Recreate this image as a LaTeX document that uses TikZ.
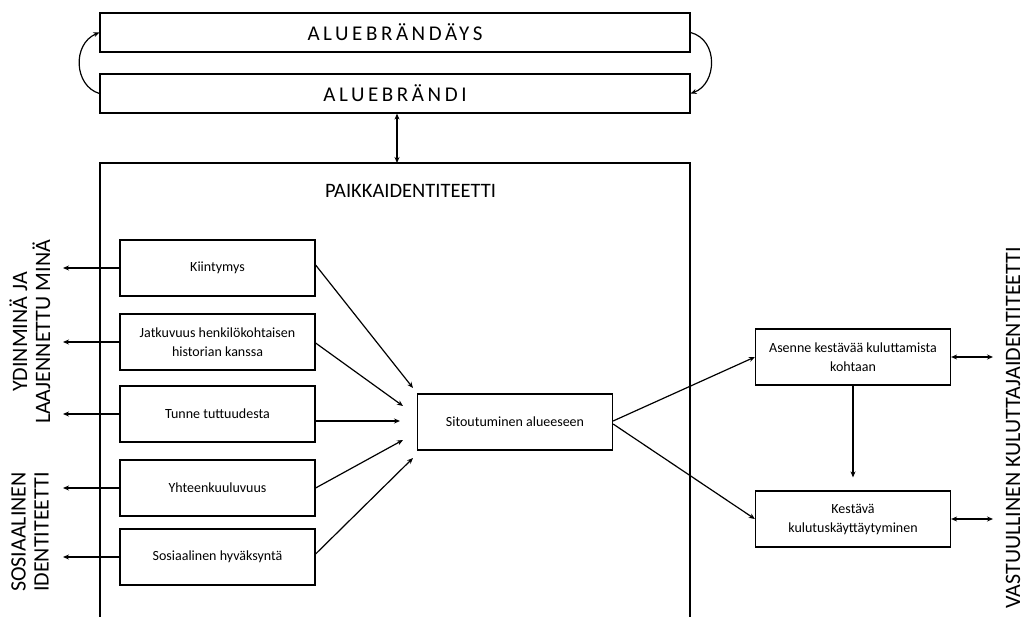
\documentclass[tikz,border=0pt]{standalone}
\usepackage{fontspec}
\setmainfont{Carlito}
\usetikzlibrary{arrows.meta,calc}
\begin{document}
\begin{tikzpicture}[x=1pt,y=-1pt,
  line width=1.2pt,
  tip/.style={-{Stealth[length=6pt,width=5pt]}},
  both/.style={{Stealth[length=6pt,width=5pt]}-{Stealth[length=6pt,width=5pt]}},
  brand/.style={draw,minimum width=590pt,minimum height=39pt,inner sep=0pt,
    font=\fontsize{21}{23}\selectfont\addfontfeature{LetterSpace=17}},
  item/.style={draw,minimum width=195pt,minimum height=56pt,inner sep=2pt,align=center,
    font=\fontsize{14}{19}\selectfont},
  side/.style={rotate=90,align=center,font=\fontsize{22}{23}\selectfont}]
\useasboundingbox (0,0) rectangle (1024,617);
% brand boxes
\node[brand] (bx1) at (395,32.5) {ALUEBRÄNDÄYS};
\node[brand] (bx2) at (395,93.5) {ALUEBRÄNDI};
\draw[tip] (bx2.west) .. controls (74,86) and (72,44) .. (bx1.west);
\draw[tip] (bx1.east) .. controls (719,40) and (717,84) .. (bx2.east);
% place identity frame
\coordinate (ftl) at (100,163);
\coordinate (ftr) at (690,163);
\draw (100,618) -- (ftl) -- (ftr) -- (690,618);
\node[font=\fontsize{20.5}{22}\selectfont] (pid) at (410.5,191) {PAIKKAIDENTITEETTI};
\coordinate (ftop) at (397,163);
\draw[both] (bx2.south -| ftop) -- (ftop);
% left items
\node[item] (k1) at (217.5,268) {Kiintymys};
\node[item] (k2) at (217.5,342) {Jatkuvuus henkilökohtaisen\\historian kanssa};
\node[item] (k3) at (217.5,414) {Tunne tuttuudesta};
\node[item] (k4) at (217.5,488) {Yhteenkuuluvuus};
\node[item] (k5) at (217.5,557) {Sosiaalinen hyväksyntä};
\foreach \n in {k1,k2,k3,k4,k5}{
  \coordinate (\n o) at (63,0 |- \n.west);
  \draw[tip] (\n.west) -- (\n o -| 63,0);
}
% commitment
\node[item] (sit) at (515,422) {Sitoutuminen alueeseen};
\coordinate (e1) at (413,388);
\coordinate (e2) at (403,406);
\coordinate (e3) at (400,421);
\coordinate (e4) at (403,440);
\coordinate (e5) at (413,458);
\draw[tip] ($(k1.east)+(0,-3)$) -- (e1);
\draw[tip] ($(k2.east)+(0,1)$) -- (e2);
\draw[tip] ($(k3.east)+(0,7)$) -- (e3);
\draw[tip] ($(k4.east)+(0,0)$) -- (e4);
\draw[tip] ($(k5.east)+(0,-3)$) -- (e5);
% consumption
\node[item] (as) at (853,357) {Asenne kestävää kuluttamista\\kohtaan};
\node[item] (ke) at (853,519) {Kestävä\\kulutuskäyttäytyminen};
\draw[tip] ($(sit.east)+(0,-1)$) -- (as.west);
\draw[tip] ($(sit.east)+(0,2)$) -- (ke.west);
\coordinate (kt) at ($(ke.north)+(0,-13)$);
\draw[tip] (as.south) -- (kt);
\coordinate (r1) at (993,357);
\coordinate (r2) at (993,519);
\draw[both] (as.east) -- (r1);
\draw[both] (ke.east) -- (r2);
% side labels
\node[side] (l1) at (30,332) {YDINMINÄ JA\\LAAJENNETTU MINÄ};
\node[side] (l2) at (30,532) {SOSIAALINEN\\IDENTITEETTI};
\node[side] (l3) at (1013,428) {VASTUULLINEN KULUTTAJAIDENTITEETTI};
\end{tikzpicture}
\end{document}
